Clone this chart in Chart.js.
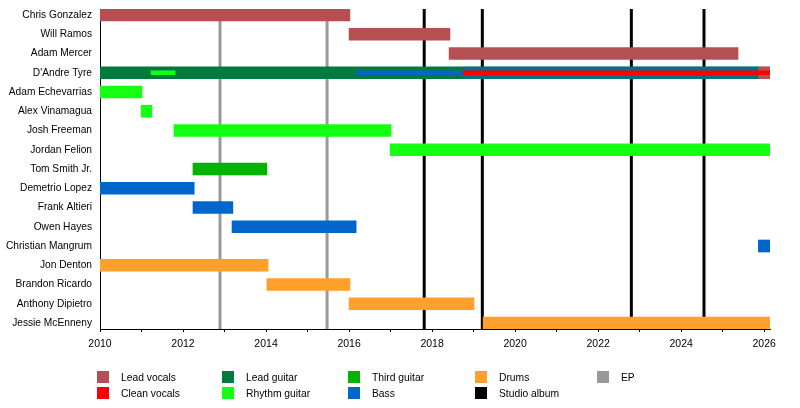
<!DOCTYPE html>
<html lang="en">
<head>
    <meta charset="UTF-8">
    <title>Band members timeline</title>
    <script src="https://cdn.jsdelivr.net/npm/chart.js"></script>
    <style>
        body {
            margin: 0;
            padding: 0;
            background-color: white;
        }
        #timeline {
            display: block;
        }
    </style>
</head>
<body>
    <canvas id="timeline" width="800" height="408"></canvas>
    <script>
        const members = [
            'Chris Gonzalez', 'Will Ramos', 'Adam Mercer', "D'Andre Tyre",
            'Adam Echevarrias', 'Alex Vinamagua', 'Josh Freeman', 'Jordan Felion',
            'Tom Smith Jr.', 'Demetrio Lopez', 'Frank Altieri', 'Owen Hayes',
            'Christian Mangrum', 'Jon Denton', 'Brandon Ricardo', 'Anthony Dipietro',
            'Jessie McEnneny'
        ];

        const startYear = 2010;
        const endYear = 2026.14;
        const tickYears = [2010, 2011, 2012, 2013, 2014, 2015, 2016, 2017, 2018,
                           2019, 2020, 2021, 2022, 2023, 2024, 2025, 2026];

        // [member, from, till]
        const leadVocals = [
            ['Chris Gonzalez', 2010, 2016.02],
            ['Will Ramos', 2016.0, 2018.43],
            ['Adam Mercer', 2018.41, 2025.37],
            ["D'Andre Tyre", 2025.86, endYear]
        ];
        const cleanVocals = [
            ["D'Andre Tyre", 2018.75, endYear]
        ];
        const leadGuitar = [
            ["D'Andre Tyre", 2010, 2025.86]
        ];
        const rhythmGuitar = [
            ['Adam Echevarrias', 2010, 2011.01],
            ['Alex Vinamagua', 2010.99, 2011.25],
            ['Josh Freeman', 2011.78, 2017.01],
            ['Jordan Felion', 2016.99, endYear]
        ];
        const rhythmGuitarExtra = [
            ["D'Andre Tyre", 2011.23, 2011.81]
        ];
        const thirdGuitar = [
            ['Tom Smith Jr.', 2012.24, 2014.02]
        ];
        const bass = [
            ['Demetrio Lopez', 2010, 2012.27],
            ['Frank Altieri', 2012.24, 2013.2],
            ['Owen Hayes', 2013.18, 2016.17],
            ['Christian Mangrum', 2025.86, endYear]
        ];
        const bassExtra = [
            ["D'Andre Tyre", 2016.19, 2018.75]
        ];
        const bassShared = [
            ["D'Andre Tyre", 2018.75, 2025.86]
        ];
        const drums = [
            ['Jon Denton', 2010, 2014.05],
            ['Brandon Ricardo', 2014.02, 2016.02],
            ['Anthony Dipietro', 2016.0, 2019.01],
            ['Jessie McEnneny', 2019.23, endYear]
        ];

        const studioAlbums = [2017.81, 2019.21, 2022.80, 2024.55];
        const eps = [2012.89, 2015.47];

        const colors = {
            leadVocals: 'rgb(180, 80, 82)',
            cleanVocals: 'rgb(255, 0, 0)',
            leadGuitar: 'rgb(0, 122, 61)',
            rhythmGuitar: 'rgb(20, 255, 20)',
            thirdGuitar: 'rgb(0, 180, 0)',
            bass: 'rgb(0, 102, 204)',
            drums: 'rgb(255, 160, 45)',
            album: 'rgb(0, 0, 0)',
            ep: 'rgb(153, 153, 153)'
        };

        const legendItems = [
            ['Lead vocals', colors.leadVocals],
            ['Clean vocals', colors.cleanVocals],
            ['Lead guitar', colors.leadGuitar],
            ['Rhythm guitar', colors.rhythmGuitar],
            ['Third guitar', colors.thirdGuitar],
            ['Bass', colors.bass],
            ['Drums', colors.drums],
            ['Studio album', colors.album],
            ['EP', colors.ep]
        ];

        const FONT = '"Liberation Sans", Arial, sans-serif';

        function toBars(rows) {
            return rows.map(r => ({ x: [r[1], r[2]], y: members.indexOf(r[0]) }));
        }

        function barSet(label, rows, color, thickness, order) {
            return {
                label: label,
                data: toBars(rows),
                backgroundColor: color,
                borderWidth: 0,
                borderSkipped: false,
                barThickness: thickness,
                grouped: false,
                order: order
            };
        }

        const releaseLines = {
            id: 'releaseLines',
            beforeDatasetsDraw(chart) {
                const ctx = chart.ctx;
                const area = chart.chartArea;
                const x = chart.scales.x;
                ctx.save();
                ctx.lineWidth = 3;
                eps.forEach(v => {
                    ctx.strokeStyle = colors.ep;
                    ctx.beginPath();
                    ctx.moveTo(x.getPixelForValue(v), area.top);
                    ctx.lineTo(x.getPixelForValue(v), area.bottom);
                    ctx.stroke();
                });
                studioAlbums.forEach(v => {
                    ctx.strokeStyle = colors.album;
                    ctx.beginPath();
                    ctx.moveTo(x.getPixelForValue(v), area.top);
                    ctx.lineTo(x.getPixelForValue(v), area.bottom);
                    ctx.stroke();
                });
                ctx.restore();
            }
        };

        const boxLegend = {
            id: 'boxLegend',
            afterDraw(chart) {
                const ctx = chart.ctx;
                const colX = [97, 222, 348, 475, 597];
                const rowY = [371, 387];
                ctx.save();
                ctx.font = '10.3px ' + FONT;
                ctx.textBaseline = 'middle';
                ctx.textAlign = 'left';
                legendItems.forEach((item, i) => {
                    const cx = colX[Math.floor(i / 2)];
                    const cy = rowY[i % 2];
                    ctx.fillStyle = item[1];
                    ctx.fillRect(cx, cy, 12, 12);
                    ctx.fillStyle = '#000';
                    ctx.fillText(item[0], cx + 24, cy + 7);
                });
                ctx.restore();
            }
        };

        const ctx = document.getElementById('timeline').getContext('2d');

        new Chart(ctx, {
            type: 'bar',
            data: {
                datasets: [
                    barSet('Clean vocals', cleanVocals, colors.cleanVocals, 4, 1),
                    barSet('Bass', bassExtra, colors.bass, 4, 2),
                    barSet('Rhythm guitar', rhythmGuitarExtra, colors.rhythmGuitar, 4, 2),
                    barSet('Bass', bassShared, 'rgba(0, 102, 204, 0.45)', 12, 3),
                    barSet('Lead vocals', leadVocals, colors.leadVocals, 12, 4),
                    barSet('Lead guitar', leadGuitar, colors.leadGuitar, 12, 4),
                    barSet('Rhythm guitar', rhythmGuitar, colors.rhythmGuitar, 12, 4),
                    barSet('Third guitar', thirdGuitar, colors.thirdGuitar, 12, 4),
                    barSet('Bass', bass, colors.bass, 12, 4),
                    barSet('Drums', drums, colors.drums, 12, 4)
                ]
            },
            options: {
                indexAxis: 'y',
                responsive: false,
                animation: false,
                layout: {
                    padding: { top: 9, right: 30, left: 0, bottom: 0 }
                },
                plugins: {
                    legend: { display: false },
                    tooltip: { enabled: false }
                },
                scales: {
                    x: {
                        type: 'linear',
                        position: 'bottom',
                        min: startYear,
                        max: endYear,
                        afterBuildTicks: scale => {
                            scale.ticks = tickYears.map(v => ({ value: v }));
                        },
                        afterFit: scale => {
                            scale.height = 79;
                        },
                        ticks: {
                            autoSkip: false,
                            maxRotation: 0,
                            padding: 6,
                            color: '#000',
                            font: { family: FONT, size: 10.5 },
                            callback: v => (v % 2 === 0 ? String(v) : '')
                        },
                        grid: {
                            drawOnChartArea: false,
                            drawTicks: true,
                            tickLength: 3,
                            color: '#000'
                        },
                        border: { display: true, color: '#000', width: 1 }
                    },
                    y: {
                        type: 'linear',
                        reverse: true,
                        offset: false,
                        min: -0.31,
                        max: members.length - 1 + 0.31,
                        afterBuildTicks: scale => {
                            scale.ticks = members.map((m, i) => ({ value: i }));
                        },
                        afterFit: scale => {
                            scale.width = 100;
                        },
                        ticks: {
                            autoSkip: false,
                            padding: 0,
                            color: '#000',
                            font: { family: FONT, size: 10.2 },
                            callback: v => members[v]
                        },
                        grid: { display: false },
                        border: { display: true, color: '#000', width: 1 }
                    }
                }
            },
            plugins: [releaseLines, boxLegend]
        });
    </script>
</body>
</html>
